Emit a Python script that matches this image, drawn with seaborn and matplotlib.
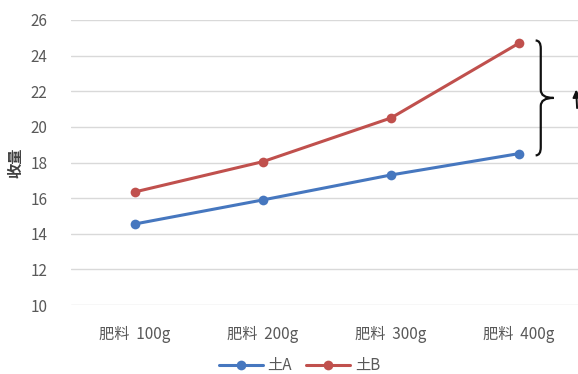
import numpy as np
import pandas as pd
import matplotlib
matplotlib.use("Agg")
import matplotlib.pyplot as plt
from matplotlib.path import Path
from matplotlib.patches import PathPatch
from matplotlib.lines import Line2D
import seaborn as sns

# Yield by fertilizer amount for two soils
categories = ["肥料  100g", "肥料  200g", "肥料  300g", "肥料  400g"]
soil_a = [14.55, 15.9, 17.3, 18.5]
soil_b = [16.35, 18.05, 20.5, 24.7]
series_names = ["土A", "土B"]
y_ticks = [10, 12, 14, 16, 18, 20, 22, 24, 26]

sns.set_theme(style="white")
plt.rcParams["font.family"] = ["Noto Sans CJK JP", "DejaVu Sans"]

df = pd.DataFrame({
    "fert": categories * 2,
    "yield": soil_a + soil_b,
    "soil": [series_names[0]] * 4 + [series_names[1]] * 4,
})

colors = ["#4677BF", "#C0504D"]
fig = plt.figure(figsize=(5.78, 3.74), dpi=100)
ax = fig.add_axes([71 / 578, 69 / 374, 512 / 578, 285 / 374])

sns.lineplot(data=df, x="fert", y="yield", hue="soil", palette=colors,
             marker="o", markersize=7, markeredgewidth=0, linewidth=2.2,
             legend=False, ax=ax, zorder=3)

ax.set_xlim(-0.5, 3.5)
ax.set_ylim(10, 26)
ax.set_yticks(y_ticks)
ax.set_yticklabels([str(t) for t in y_ticks])
ax.grid(axis="y", color="#D9D9D9", linewidth=1.0)
ax.grid(axis="x", visible=False)
for s in ax.spines.values():
    s.set_visible(False)
ax.tick_params(axis="y", length=0, pad=17, labelsize=11, labelcolor="#595959")
ax.tick_params(axis="x", length=0, pad=15, labelsize=11, labelcolor="#595959")
ax.set_xlabel("")
ax.set_ylabel("收量", fontsize=11, color="#404040", fontweight="bold")
ax.yaxis.set_label_coords(-0.093, 0.5)

# Curly brace spanning the gap between the two soils at 400g
y_hi, y_lo = soil_b[-1] + 0.15, soil_a[-1] - 0.1
ym = (y_lo + y_hi) / 2
x0, x1, xt = 3.13, 3.17, 3.27
d = 0.45
verts = [
    (x0, y_hi), (x1, y_hi), (x1, y_hi - d),
    (x1, ym + d), (x1, ym), (xt, ym),
    (xt, ym), (x1, ym), (x1, ym - d),
    (x1, y_lo + d), (x1, y_lo), (x0, y_lo),
]
codes = [
    Path.MOVETO, Path.CURVE3, Path.CURVE3,
    Path.LINETO, Path.CURVE3, Path.CURVE3,
    Path.MOVETO, Path.CURVE3, Path.CURVE3,
    Path.LINETO, Path.CURVE3, Path.CURVE3,
]
brace = PathPatch(Path(verts, codes), facecolor="none", edgecolor="#111111",
                  linewidth=1.6, clip_on=False, zorder=4)
ax.add_patch(brace)

# Arrow pointing up next to the brace, running off the right edge
ax.annotate("", xy=(3.445, 22.25), xytext=(3.455, 20.9),
            arrowprops=dict(arrowstyle="-|>", color="#111111", lw=1.4,
                            mutation_scale=11),
            annotation_clip=False)

handles = [Line2D([], [], color=c, marker="o", markersize=7, lw=2.2,
                  markeredgewidth=0) for c in colors]
fig.legend(handles, series_names, loc="center", bbox_to_anchor=(0.518, 0.022),
           ncol=2, frameon=False, fontsize=11, handlelength=2.9,
           handletextpad=0.3, columnspacing=0.9, labelcolor="#595959",
           borderaxespad=0.0, borderpad=0.1)

fig.savefig("out.png", dpi=100)
